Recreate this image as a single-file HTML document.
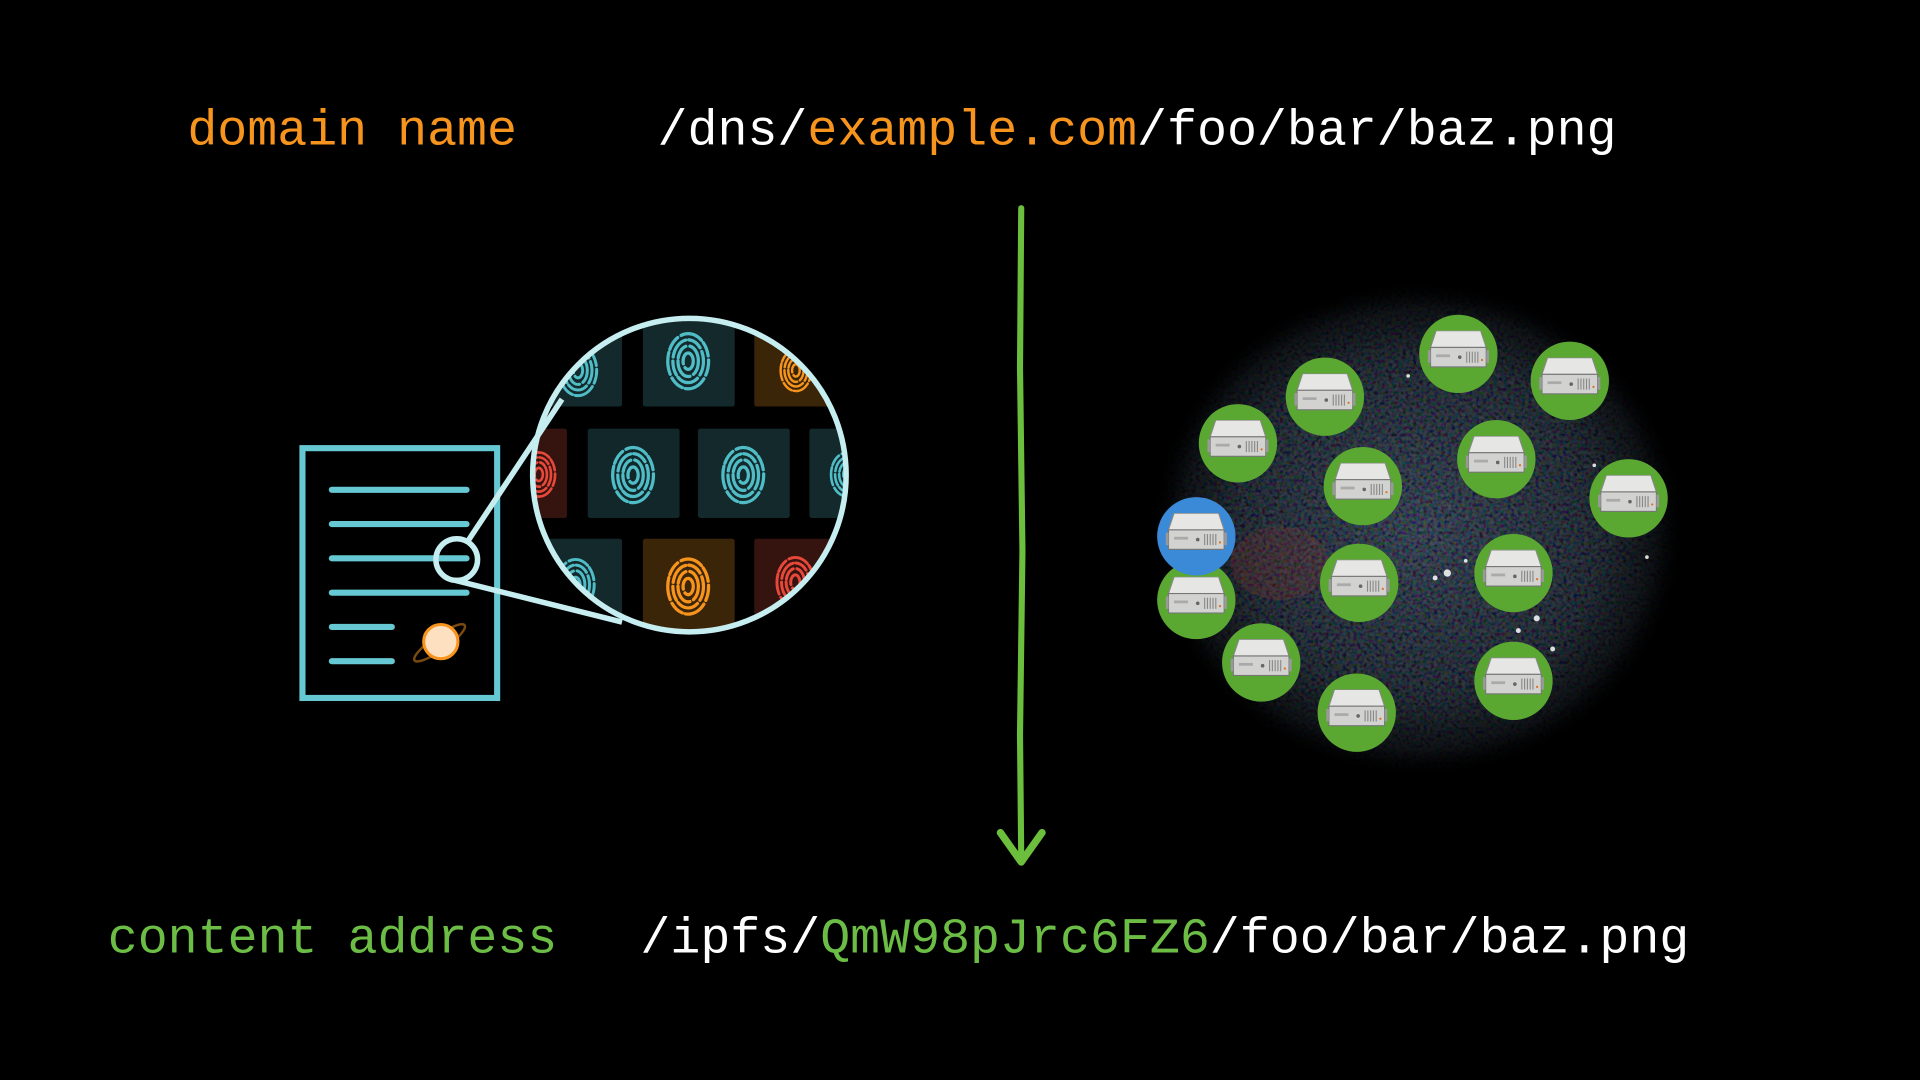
<!DOCTYPE html>
<html><head><meta charset="utf-8"><style>
html,body{margin:0;padding:0;background:#000;}
svg{display:block}
</style></head><body>
<svg width="1920" height="1080" viewBox="0 0 1568 882" xmlns="http://www.w3.org/2000/svg">
<defs>
<radialGradient id="net" cx="50%" cy="50%" r="50%">
<stop offset="0" stop-color="#2c3242" stop-opacity="0.8"/>
<stop offset="0.6" stop-color="#1a1e28" stop-opacity="0.7"/>
<stop offset="0.9" stop-color="#101318" stop-opacity="0.4"/>
<stop offset="1" stop-color="#000" stop-opacity="0"/>
</radialGradient>
<radialGradient id="fade" cx="50%" cy="50%" r="50%">
<stop offset="0" stop-color="#fff"/>
<stop offset="0.7" stop-color="#bbb"/>
<stop offset="1" stop-color="#000"/>
</radialGradient>
<mask id="nm"><ellipse cx="1158" cy="432" rx="215" ry="200" fill="url(#fade)"/></mask>
<filter id="noise" x="0" y="0" width="100%" height="100%">
<feTurbulence type="fractalNoise" baseFrequency="0.35" numOctaves="2" seed="4"/>
<feColorMatrix type="matrix" values="1.2 0 0 0 -0.45  0 1.3 0 0 -0.42  0 0 1.5 0 -0.42  0 0 0 0 0.3"/>
</filter>
<clipPath id="mag"><circle cx="563" cy="388" r="127"/></clipPath>
<symbol id="srv" viewBox="0 0 44 28">
<polygon points="6,0 38,0 42,12 2,12" fill="#e6e6e4" stroke="#888" stroke-width="0.8"/>
<rect x="2" y="12" width="40" height="14" fill="#d2d2d0" stroke="#777" stroke-width="0.8"/>
<rect x="0" y="14" width="2" height="9" fill="#999"/>
<rect x="42" y="14" width="2" height="9" fill="#999"/>
<rect x="6" y="17" width="10" height="2" fill="#aaa"/>
<circle cx="23" cy="19" r="1.3" fill="#666"/>
<g stroke="#888" stroke-width="0.8"><line x1="28" y1="15" x2="28" y2="23"/><line x1="30" y1="15" x2="30" y2="23"/><line x1="32" y1="15" x2="32" y2="23"/><line x1="34" y1="15" x2="34" y2="23"/><line x1="36" y1="15" x2="36" y2="23"/></g>
<circle cx="39" cy="21" r="0.8" fill="#e07020"/>
</symbol>
<symbol id="fp" viewBox="-30 -36 60 72">
<g fill="none" stroke-width="3.2" stroke-linecap="round" stroke-dasharray="14 4 22 3">
<ellipse cx="0" cy="0" rx="5" ry="8"/>
<ellipse cx="0" cy="0" rx="10" ry="15"/>
<ellipse cx="0" cy="0" rx="15" ry="21"/>
<ellipse cx="0" cy="0" rx="20" ry="27"/>
</g>
</symbol>
</defs>

<g font-family="Liberation Mono, monospace" font-size="40.8">
<text x="153" y="118" fill="#f7941d">domain name</text>
<text x="537" y="118" fill="#ffffff">/dns/<tspan fill="#f7941d">example.com</tspan>/foo/bar/baz.png</text>
<text x="88" y="778" fill="#6cbd45">content address</text>
<text x="523" y="778" fill="#ffffff">/ipfs/<tspan fill="#6cbd45">QmW98pJrc6FZ6</tspan>/foo/bar/baz.png</text>
</g>

<g stroke="#6cbf3c" stroke-linecap="round" stroke-linejoin="round" fill="none">
<path d="M834 170 L833 300 L835 450 L833 600 L834 700" stroke-width="5"/>
<path d="M817 680 L834 704 L851 680" stroke-width="6"/>
</g>

<g stroke="#66c8d2" stroke-linecap="round" fill="none">
<rect x="247" y="366" width="159" height="204" stroke-width="5"/>
<g stroke-width="5">
<line x1="271" y1="400" x2="381" y2="400"/>
<line x1="271" y1="428" x2="381" y2="428"/>
<line x1="271" y1="456" x2="381" y2="456"/>
<line x1="271" y1="484" x2="381" y2="484"/>
<line x1="271" y1="512" x2="320" y2="512"/>
<line x1="271" y1="540" x2="320" y2="540"/>
</g>
</g>
<ellipse cx="359" cy="525" rx="25" ry="6" transform="rotate(-35 359 525)" fill="none" stroke="#7a4a10" stroke-width="2"/>
<circle cx="360" cy="524" r="14" fill="#fde0c0" stroke="#f7941d" stroke-width="2.5"/>

<g clip-path="url(#mag)">
<rect x="430" y="255" width="270" height="270" fill="#000"/>
<g>
<rect x="445" y="260" width="63" height="72" rx="2" fill="#14292c"/>
<rect x="525" y="260" width="75" height="72" rx="2" fill="#14292c"/>
<rect x="616" y="260" width="75" height="72" rx="2" fill="#3a2508"/>
<rect x="400" y="350" width="63" height="73" rx="2" fill="#35140f"/>
<rect x="480" y="350" width="75" height="73" rx="2" fill="#12272a"/>
<rect x="570" y="350" width="75" height="73" rx="2" fill="#14292c"/>
<rect x="661" y="350" width="75" height="73" rx="2" fill="#14292c"/>
<rect x="445" y="440" width="63" height="75" rx="2" fill="#14292c"/>
<rect x="525" y="440" width="75" height="75" rx="2" fill="#3a2508"/>
<rect x="616" y="440" width="75" height="75" rx="2" fill="#35140f"/>
</g>
<g stroke="#4fbcc6"><use href="#fp" x="447" y="275" width="50" height="55"/></g>
<g stroke="#4fbcc6"><use href="#fp" x="537" y="265" width="50" height="60"/></g>
<g stroke="#f7941d"><use href="#fp" x="625" y="280" width="50" height="45"/></g>
<g stroke="#e8483a"><use href="#fp" x="420" y="360" width="40" height="55"/></g>
<g stroke="#4fbcc6"><use href="#fp" x="492" y="358" width="50" height="60"/></g>
<g stroke="#4fbcc6"><use href="#fp" x="582" y="358" width="50" height="60"/></g>
<g stroke="#4fbcc6"><use href="#fp" x="672" y="360" width="40" height="55"/></g>
<g stroke="#4fbcc6"><use href="#fp" x="445" y="450" width="50" height="55"/></g>
<g stroke="#f7941d"><use href="#fp" x="537" y="448" width="50" height="62"/></g>
<g stroke="#e8483a"><use href="#fp" x="627" y="448" width="45" height="55"/></g>
</g>
<g stroke="#c6eef0" stroke-width="4.5" fill="none">
<circle cx="563" cy="388" r="128"/>
<circle cx="373" cy="457" r="17"/>
<line x1="382" y1="442" x2="459" y2="326"/>
<line x1="372" y1="474" x2="508" y2="508"/>
</g>

<ellipse cx="1158" cy="432" rx="215" ry="200" fill="url(#net)"/>
<g mask="url(#nm)">
<rect x="940" y="230" width="440" height="405" filter="url(#noise)"/>
</g>
<g fill="#fff" opacity="0.85">
<circle cx="1182" cy="468" r="3"/><circle cx="1172" cy="472" r="2"/><circle cx="1255" cy="505" r="2.5"/>
<circle cx="1240" cy="515" r="2"/><circle cx="1320" cy="432" r="2"/><circle cx="1302" cy="380" r="1.5"/>
<circle cx="1150" cy="307" r="1.5"/><circle cx="1268" cy="530" r="2"/><circle cx="1197" cy="458" r="1.5"/>
<circle cx="1345" cy="455" r="1.5"/>
</g>
<g fill="#c03a30" opacity="0.15"><ellipse cx="1045" cy="460" rx="40" ry="30"/></g>

<g fill="#5aa832">
<circle cx="1191" cy="289" r="32"/><circle cx="1282" cy="311" r="32"/><circle cx="1082" cy="324" r="32"/>
<circle cx="1011" cy="362" r="32"/><circle cx="1222" cy="375" r="32"/><circle cx="1113" cy="397" r="32"/>
<circle cx="1330" cy="407" r="32"/><circle cx="977" cy="490" r="32"/><circle cx="1110" cy="476" r="32"/>
<circle cx="1236" cy="468" r="32"/><circle cx="1030" cy="541" r="32"/><circle cx="1108" cy="582" r="32"/>
<circle cx="1236" cy="556" r="32"/>
</g>
<circle cx="977" cy="438" r="32" fill="#3b8ad8"/>
<g>
<use href="#srv" x="1166" y="270" width="50" height="32"/>
<use href="#srv" x="1257" y="292" width="50" height="32"/>
<use href="#srv" x="1057" y="305" width="50" height="32"/>
<use href="#srv" x="986" y="343" width="50" height="32"/>
<use href="#srv" x="1197" y="356" width="50" height="32"/>
<use href="#srv" x="1088" y="378" width="50" height="32"/>
<use href="#srv" x="1305" y="388" width="50" height="32"/>
<use href="#srv" x="952" y="471" width="50" height="32"/>
<use href="#srv" x="1085" y="457" width="50" height="32"/>
<use href="#srv" x="1211" y="449" width="50" height="32"/>
<use href="#srv" x="1005" y="522" width="50" height="32"/>
<use href="#srv" x="1083" y="563" width="50" height="32"/>
<use href="#srv" x="1211" y="537" width="50" height="32"/>
<use href="#srv" x="952" y="419" width="50" height="32"/>
</g>
</svg>
</body></html>
